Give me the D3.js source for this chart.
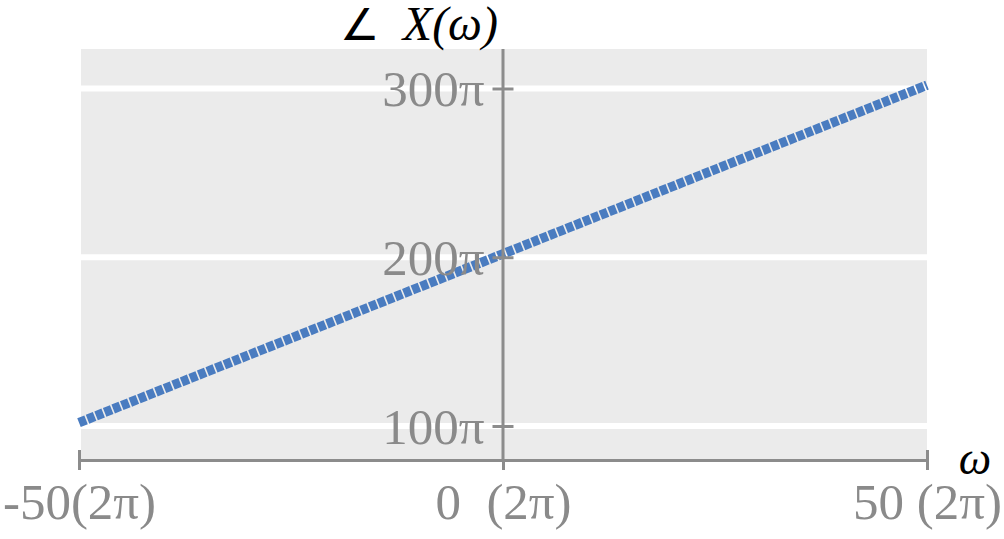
<!DOCTYPE html>
<html>
<head>
<meta charset="utf-8">
<script src="https://cdn.jsdelivr.net/npm/d3@7"></script>
<style>
  body { margin: 0; background: #fff; }
  svg { display: block; }
</style>
</head>
<body>
<div class="container"></div>
<script>
// data (x in units of 2π, phase in units of π)
const omega = [-50, 0, 50];
const phase = [102, 202, 302];
const xTicks = [-50, 0, 50];
const xTickLabels = ["-50(2\u03C0)", "0  (2\u03C0)", "50 (2\u03C0)"];
const yTicks = [100, 200, 300];
const yTickLabels = ["100\u03C0", "200\u03C0", "300\u03C0"];

const width = 1004;
const height = 539;
const axisColor = "#8c8c8c";
const labelColor = "#8a8a8a";
const serif = "'Liberation Serif', 'Times New Roman', serif";

const svg = d3
  .select(".container")
  .append("svg")
  .attr("width", width)
  .attr("height", height);

const x = d3.scaleLinear().domain([-50, 50]).range([79, 927]);
const y = d3.scaleLinear().domain([100, 300]).range([426, 88.5]);

const panelTop = 49;
const panelBottom = 460;

// gray panel
svg
  .append("rect")
  .attr("x", x(-50) + 2)
  .attr("y", panelTop)
  .attr("width", x(50) - x(-50) - 2)
  .attr("height", panelBottom - panelTop)
  .attr("fill", "#ebebeb");

// white grid lines
svg
  .append("g")
  .selectAll("line")
  .data(yTicks)
  .join("line")
  .attr("x1", x(-50) + 2)
  .attr("x2", x(50))
  .attr("y1", (d) => y(d))
  .attr("y2", (d) => y(d))
  .attr("stroke", "#fff")
  .attr("stroke-width", 6);

// the phase line
const line = d3
  .line()
  .x((d, i) => x(omega[i]))
  .y((d) => y(d));

svg
  .append("path")
  .datum(phase)
  .attr("d", line)
  .attr("fill", "none")
  .attr("stroke", "#4a7cc0")
  .attr("stroke-width", 9.5)
  .attr("stroke-dasharray", "7.6,1.6");

// vertical axis (through omega = 0)
svg
  .append("line")
  .attr("x1", x(0))
  .attr("x2", x(0))
  .attr("y1", panelTop)
  .attr("y2", panelBottom)
  .attr("stroke", axisColor)
  .attr("stroke-width", 3);

const yAxis = svg
  .append("g")
  .attr("transform", `translate(${x(0) - 10.5},0)`)
  .call(
    d3
      .axisRight(y)
      .tickValues(yTicks)
      .tickSize(21)
      .tickFormat((d, i) => yTickLabels[i])
  );
yAxis.select(".domain").remove();
yAxis.selectAll(".tick line").attr("stroke", axisColor).attr("stroke-width", 3);
yAxis
  .selectAll(".tick text")
  .attr("x", -8)
  .attr("dy", "0.34em")
  .attr("text-anchor", "end")
  .attr("fill", labelColor)
  .style("font-family", serif)
  .style("font-size", "51px");

// horizontal axis
const xAxis = svg
  .append("g")
  .attr("transform", `translate(0,${panelBottom})`)
  .call(
    d3
      .axisBottom(x)
      .tickValues(xTicks)
      .tickSizeInner(10)
      .tickSizeOuter(0)
      .tickFormat((d, i) => xTickLabels[i])
  );
xAxis.select(".domain").attr("stroke", axisColor).attr("stroke-width", 3);
xAxis
  .selectAll(".tick line")
  .attr("stroke", axisColor)
  .attr("stroke-width", 3)
  .attr("y1", (d) => (d === 0 ? 0 : -10));
xAxis
  .selectAll(".tick text")
  .attr("y", 59)
  .attr("dy", 0)
  .attr("fill", labelColor)
  .style("font-family", serif)
  .style("font-size", "51px")
  .style("white-space", "pre");

// axis titles
svg
  .append("text")
  .attr("x", 498)
  .attr("y", 40)
  .attr("text-anchor", "end")
  .style("font-family", serif)
  .style("font-size", "48px")
  .style("white-space", "pre")
  .attr("fill", "#000")
  .html("<tspan font-size='44px' font-weight='300'>\u2220</tspan>  <tspan font-style='italic'>X(\u03C9)</tspan>");

svg
  .append("text")
  .attr("x", 975)
  .attr("y", 474)
  .attr("text-anchor", "middle")
  .style("font-family", serif)
  .style("font-size", "46px")
  .style("font-style", "italic")
  .attr("fill", "#000")
  .text("\u03C9");
</script>
</body>
</html>
